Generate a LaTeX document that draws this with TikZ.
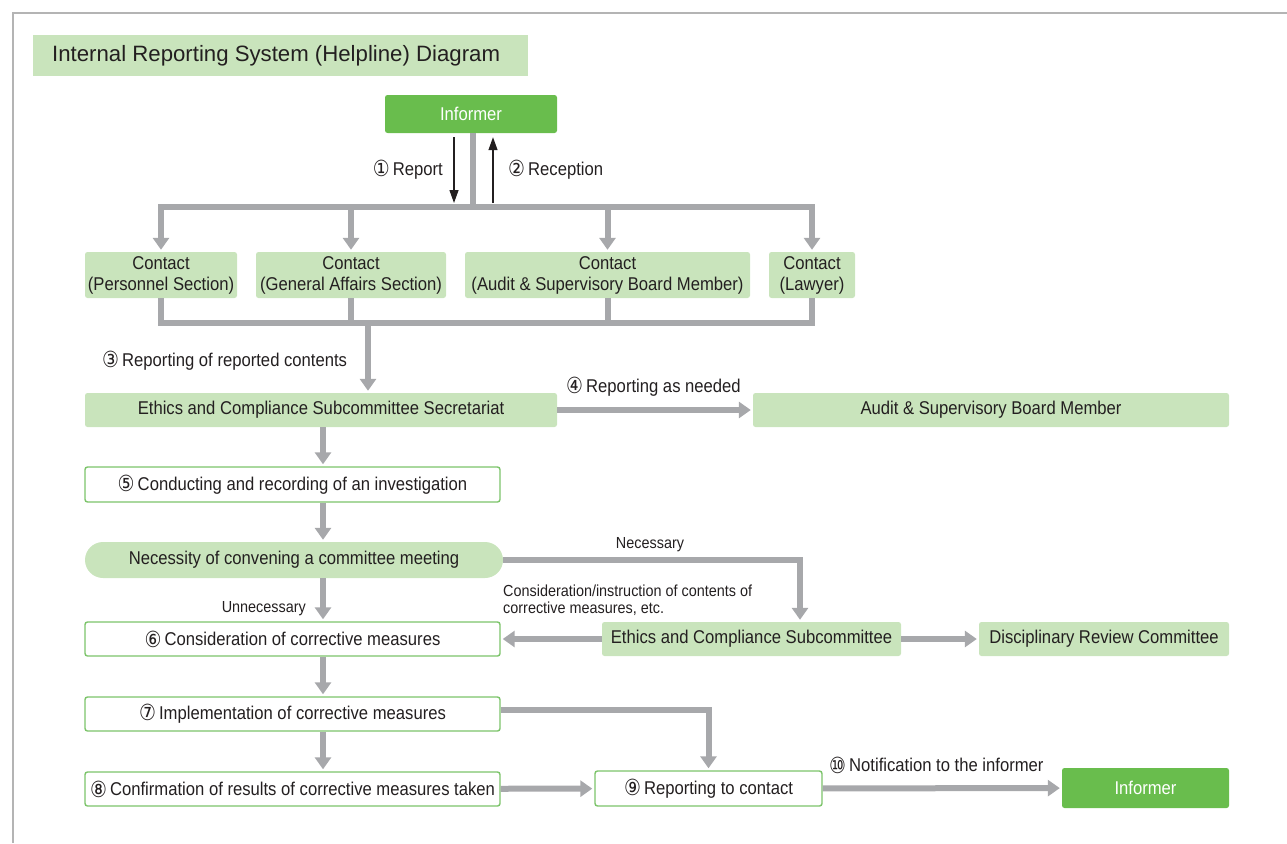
\documentclass[tikz,border=0pt]{standalone}
\usepackage{fontspec}
\setmainfont{Liberation Sans}[FakeStretch=0.9]
\newfontfamily\titlefont{Liberation Sans}
\newfontfamily\numfont{DejaVu Sans}[FakeStretch=0.85]
\usetikzlibrary{arrows.meta,calc}
\definecolor{leaf}{HTML}{C9E4BC}
\definecolor{grass}{HTML}{69BD4D}
\definecolor{edge}{HTML}{7CC46A}
\definecolor{pipe}{HTML}{A7A8AB}
\definecolor{frame}{HTML}{B4B4B4}
\definecolor{ink}{HTML}{231F20}
\newcommand{\cn}[1]{\raisebox{-0.12ex}{\scalebox{1.2}{\numfont #1}}\,}
\tikzset{
  box/.style={rounded corners=2.5pt,inner sep=0pt,text=ink,align=center,
    font=\fontsize{18.5}{21}\selectfont},
  greenbox/.style={box,fill=leaf},
  stepbox/.style={box,draw=edge,line width=1.4pt,fill=white},
  informer/.style={box,fill=grass,text=white},
  pipeline/.style={draw=pipe,line width=6pt},
  flow/.style={pipeline,shorten >=2pt,-{Triangle[length=12pt,width=16pt]}},
  thinarrow/.style={ink,line width=1.3pt,-{Triangle[length=13pt,width=9pt]}},
  note/.style={text=ink,inner sep=0pt,font=\fontsize{18.5}{21}\selectfont},
  smallnote/.style={text=ink,inner sep=0pt,font=\fontsize{16}{17.5}\selectfont}
}

\begin{document}
\begin{tikzpicture}[x=1pt,y=-1pt]
    \useasboundingbox (0,0) rectangle (1287,843);
    \draw[frame,line width=2pt] (13,843) -- (13,13) -- (1287,13);
    \node[fill=leaf,anchor=west,inner xsep=19pt,inner ysep=0pt,minimum height=41pt,
      text=ink,font=\titlefont\fontsize{22.2}{25}\selectfont]
      (title) at (33,55.5) {\makebox[457pt][l]{Internal Reporting System (Helpline) Diagram}};

    % informer and the contact points
    \node[informer,minimum width=172pt,minimum height=38pt] (inf) at (471,114) {Informer};
    \node[greenbox,minimum width=152pt,minimum height=46pt] (pers) at (161,275)
      {Contact\\(Personnel Section)};
    \node[greenbox,minimum width=190pt,minimum height=46pt] (gen) at (351,275)
      {Contact\\(General Affairs Section)};
    \node[greenbox,minimum width=285pt,minimum height=46pt] (aud) at (607.5,275)
      {Contact\\(Audit \& Supervisory Board Member)};
    \node[greenbox,minimum width=86pt,minimum height=46pt] (law) at (812,275)
      {Contact\\(Lawyer)};

    \coordinate (topbus) at (473,207);
    \coordinate (lowbus) at (368,323);
    \coordinate (spine) at (323,0);
    \coordinate (nturn) at (800,0);

    \draw[pipeline] (inf.south -| topbus) -- (topbus);
    \foreach \c in {pers,gen,aud,law}
      \draw[flow] (topbus) -| (\c.north);
    \draw[thinarrow] ([xshift=-19pt,yshift=-4pt]inf.south -| topbus)
      -- ([xshift=-19pt,yshift=4pt]topbus);
    \draw[thinarrow] ([xshift=20pt,yshift=4pt]topbus)
      -- ([xshift=20pt,yshift=-4pt]inf.south -| topbus);
    \node[note,anchor=east] (rpt) at (443,170) {\cn{①}Report};
    \node[note,anchor=west] (rcp) at (508,170) {\cn{②}Reception};

    % secretariat
    \node[greenbox,minimum width=472pt,minimum height=34pt] (sec) at (321,410)
      {Ethics and Compliance Subcommittee Secretariat};
    \node[greenbox,minimum width=476pt,minimum height=34pt] (audm) at (991,410)
      {Audit \& Supervisory Board Member};
    \draw[pipeline] (pers.south) |- (lowbus) -| (law.south);
    \draw[pipeline] (gen.south) -- (gen.south |- lowbus);
    \draw[pipeline] (aud.south) -- (aud.south |- lowbus);
    \draw[flow] (lowbus) -- (lowbus |- sec.north);
    \node[note,anchor=west] (rpc) at (102,361) {\cn{③}Reporting of reported contents};
    \draw[flow] (sec) -- (audm);
    \node[note,anchor=west] (rnd) at (566,387) {\cn{④}Reporting as needed};

    % investigation and measures
    \node[stepbox,minimum width=415pt,minimum height=35pt] (inv) at (292.5,484.5)
      {\cn{⑤}Conducting and recording of an investigation};
    \node[greenbox,rounded corners=18pt,minimum width=418pt,minimum height=36pt] (need)
      at (294,560) {Necessity of convening a committee meeting};
    \node[stepbox,minimum width=415pt,minimum height=34pt] (cons) at (292.5,639)
      {\cn{⑥}Consideration of corrective measures};
    \node[greenbox,minimum width=299pt,minimum height=34pt] (sub) at (751.5,639)
      {Ethics and Compliance Subcommittee};
    \node[greenbox,minimum width=250pt,minimum height=34pt] (disc) at (1104,639)
      {Disciplinary Review Committee};
    \node[stepbox,minimum width=415pt,minimum height=34pt] (impl) at (292.5,714)
      {\cn{⑦}Implementation of corrective measures};
    \node[stepbox,minimum width=415pt,minimum height=34pt] (conf) at (292.5,789)
      {\cn{⑧}Confirmation of results of corrective measures taken};
    \node[stepbox,minimum width=227pt,minimum height=35pt] (rep) at (708.5,788.5)
      {\cn{⑨}Reporting to contact};
    \node[informer,minimum width=167pt,minimum height=40pt] (inf2) at (1145.5,788)
      {Informer};

    \draw[flow] (sec.south -| spine) -- (inv.north -| spine);
    \draw[flow] (inv.south -| spine) -- (need.north -| spine);
    \draw[flow] (need.south -| spine) -- (cons.north -| spine);
    \draw[flow] (need.east) -| (nturn |- sub.north);
    \node[smallnote] (nec) at (650,545) {Necessary};
    \node[smallnote,anchor=east] (unn) at (306,609) {Unnecessary};
    \draw[flow] (sub) -- (cons);
    \node[smallnote,anchor=west,align=left] (inst) at (503,600)
      {Consideration/instruction of contents of\\corrective measures, etc.};
    \draw[flow] (sub) -- (disc);
    \draw[flow] (cons.south -| spine) -- (impl.north -| spine);
    \draw[flow] (impl.south -| spine) -- (conf.north -| spine);
    \draw[flow] ([yshift=4pt]impl.east) -| (rep.north);
    \draw[flow] (conf) -- (rep);
    \draw[flow] (rep) -- (inf2);
    \node[note,anchor=west] (ntf) at (829,765) {\cn{⑩}Notification to the informer};
\end{tikzpicture}
\end{document}
